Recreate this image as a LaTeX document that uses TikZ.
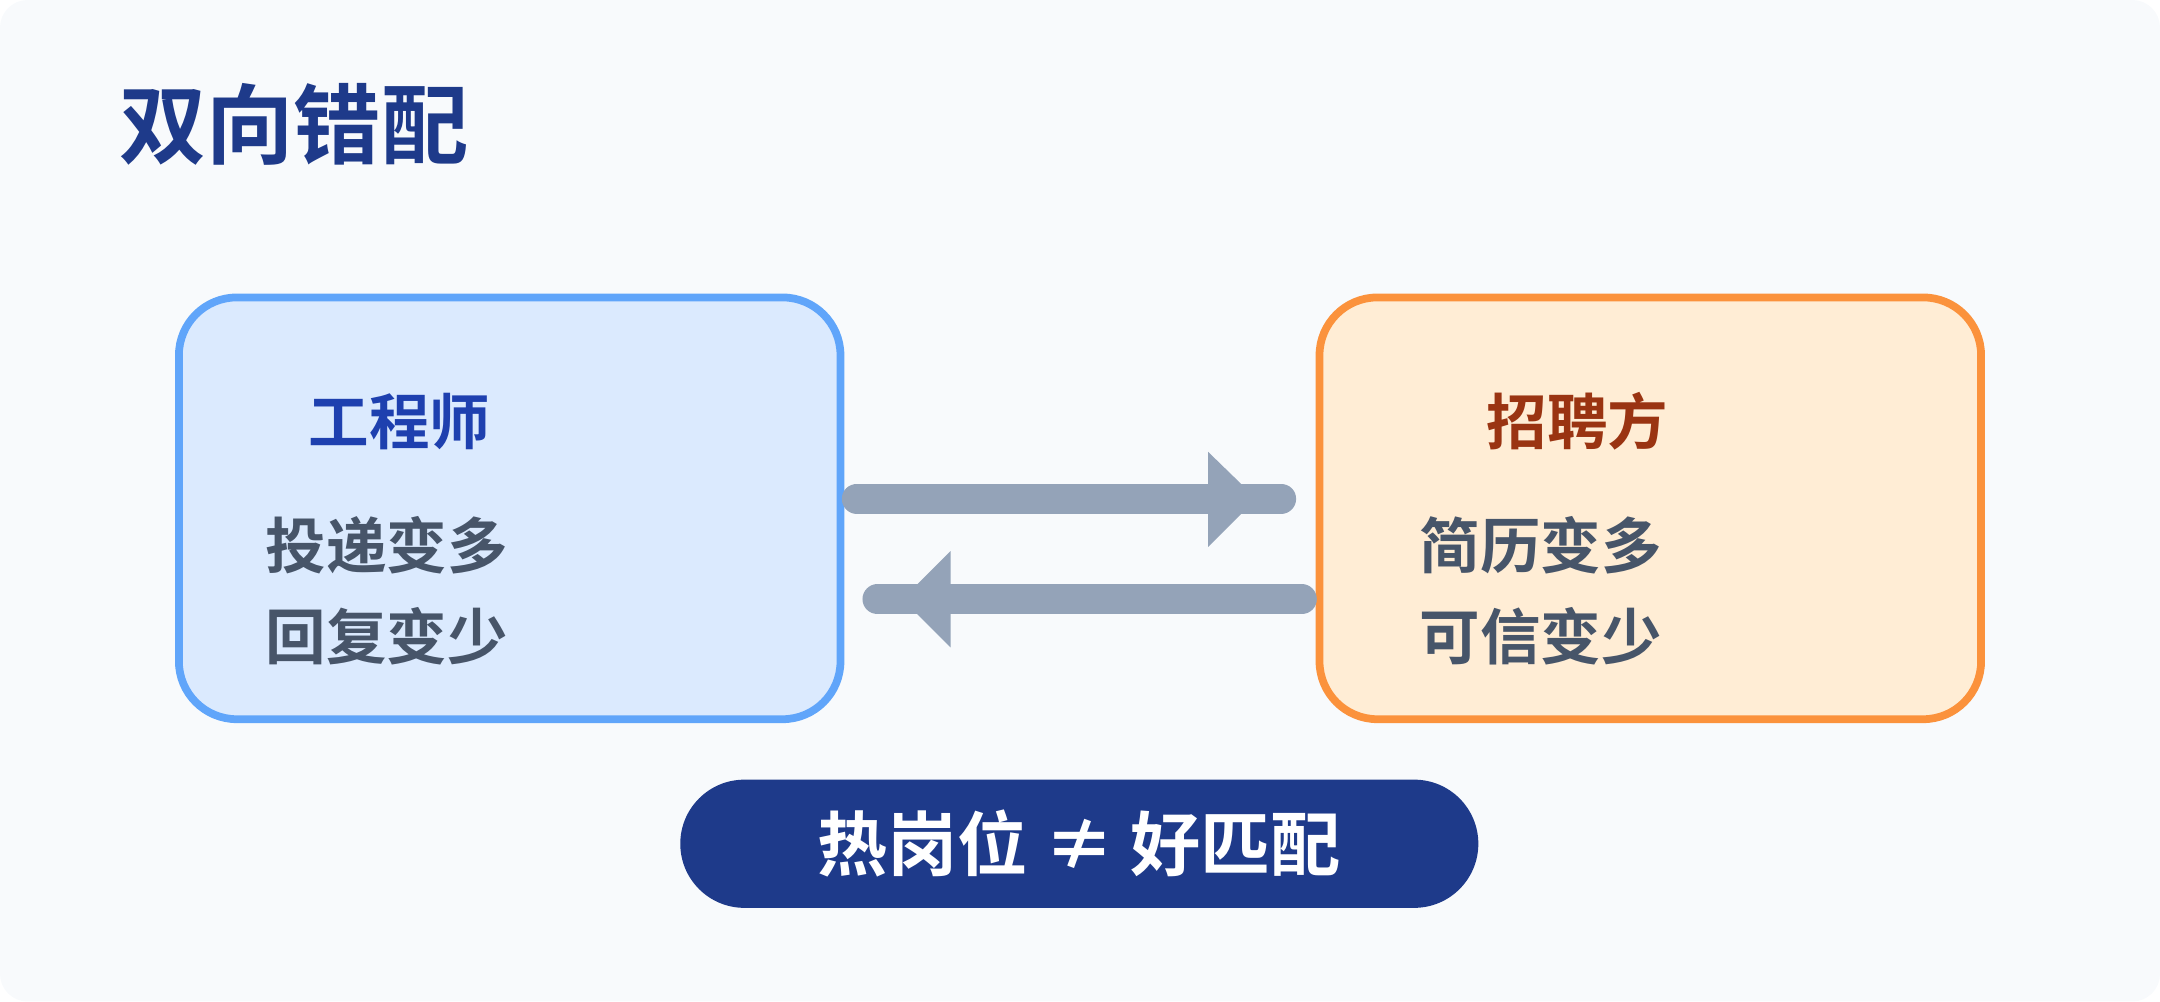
\documentclass[tikz,border=0pt]{standalone}
\usepackage{fontspec}
\setmainfont{Noto Sans CJK SC}[BoldFont={* Bold}]
\definecolor{bg}{HTML}{F8FAFC}
\definecolor{navy}{HTML}{1E3A8A}
\definecolor{engc}{HTML}{1E40AF}
\definecolor{recc}{HTML}{9A3412}
\definecolor{txt}{HTML}{475569}
\definecolor{arr}{HTML}{94A3B8}
\begin{document}
\begin{tikzpicture}[x=0.01cm,y=-0.01cm,
  box/.style={rounded corners=0.42cm,line width=1.6pt},
  item/.style={text=txt,font=\bfseries\fontsize{12.5}{14}\selectfont,anchor=west,inner sep=0},
  head/.style={font=\bfseries\fontsize{12.5}{14}\selectfont,inner sep=0},
  arline/.style={arr,line width=6.2pt,line cap=round},
  tip/.style={fill=arr,draw=none}]
\fill[bg,rounded corners=0.2cm] (0,0) rectangle (1568,727);
\useasboundingbox (0,0) rectangle (1568,727);
\node[anchor=west,inner sep=0,text=navy,font=\bfseries\fontsize{18}{20}\selectfont] (title) at (86,90) {双向错配};
\node[box,draw=blue!40!cyan!60!white,draw={rgb,255:red,96;green,165;blue,250},fill={rgb,255:red,219;green,234;blue,254},minimum width=4.8cm,minimum height=3.06cm] (eng) at (370,369) {};
\node[box,draw={rgb,255:red,251;green,146;blue,60},fill={rgb,255:red,255;green,237;blue,213},minimum width=4.8cm,minimum height=3.06cm] (rec) at (1198,369) {};
\node[head,text=engc] (engt) at (290,306) {工程师};
\node[item] (e1) at (192,396) {投递变多};
\node[item] (e2) at (192,462) {回复变少};
\node[head,text=recc] (rect) at (1145,306) {招聘方};
\node[item] (r1) at (1030,396) {简历变多};
\node[item] (r2) at (1030,462) {可信变少};
\coordinate (a1s) at (622,362); \coordinate (a1e) at (930,362);
\coordinate (a2s) at (945,435); \coordinate (a2e) at (637,435);
\draw[arline] (a1s) -- (a1e);
\fill[tip] (877,328) -- (912,362) -- (877,397) -- cycle;
\draw[arline] (a2s) -- (a2e);
\fill[tip] (690,400) -- (655,435) -- (690,470) -- cycle;
\node[fill=navy,rounded corners=0.465cm,minimum width=5.79cm,minimum height=0.93cm,text=white,font=\bfseries\fontsize{14.5}{16}\selectfont] (pill) at (783.5,612.5) {热岗位 ≠ 好匹配};
\end{tikzpicture}
\end{document}
